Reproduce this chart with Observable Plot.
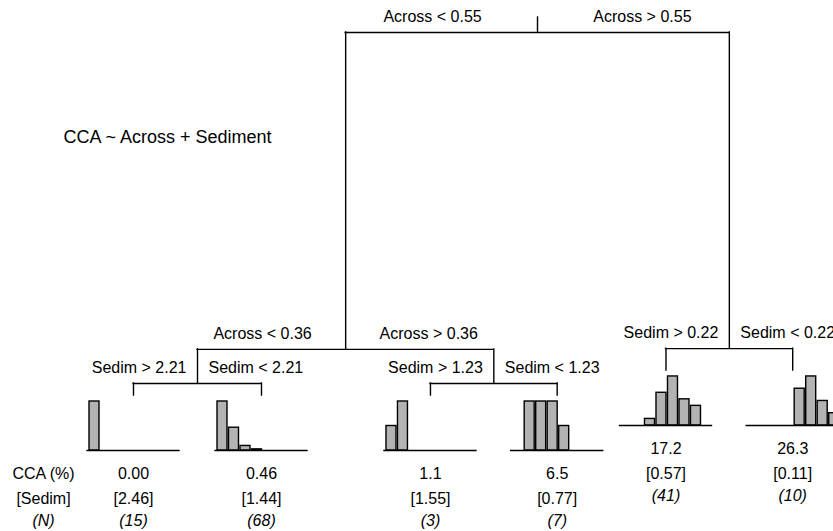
<!DOCTYPE html>
<html>
<head>
<meta charset="utf-8">
<script src="https://cdn.jsdelivr.net/npm/d3@7"></script>
<script src="https://cdn.jsdelivr.net/npm/@observablehq/plot@0.6"></script>
<style>
  html, body { margin: 0; padding: 0; background: #fff; }
  #chart svg { display: block; }
</style>
</head>
<body>
<div id="chart"></div>
<script>
// ---- Data ----
const title = "CCA ~ Across + Sediment";
// leaves (terminal nodes), left to right
const leafIds = ["L1", "L2", "L3", "L4", "L5", "L6"];
const leafPos = [1, 2, 3.32, 4.31, 5.16, 6.15];          // layout position along x
const leafDepth = [0, 0, 0, 0, 0.069, 0.069];           // node height (deviance scale)
const ccaMean = ["0.00", "0.46", "1.1", "6.5", "17.2", "26.3"];
const sedimMean = ["[2.46]", "[1.44]", "[1.55]", "[0.77]", "[0.57]", "[0.11]"];
const nObs = ["(15)", "(68)", "(3)", "(7)", "(41)", "(10)"];
const histCounts = [
  [15, 0, 0, 0, 0, 0, 0, 0],
  [43, 20, 4, 1, 0, 0, 0, 0],
  [1, 2, 0, 0, 0, 0, 0, 0],
  [0, 2, 2, 2, 1, 0, 0, 0],
  [0, 0, 2, 10, 15, 8, 6, 0],
  [0, 0, 0, 0, 3, 4, 2, 1]
];
// splits (internal nodes)
const splitIds = ["root", "n2", "n3", "n4", "n5"];
const splitLeft = ["Across < 0.55", "Across < 0.36", "Sedim > 0.22", "Sedim > 2.21", "Sedim > 1.23"];
const splitRight = ["Across > 0.55", "Across > 0.36", "Sedim < 0.22", "Sedim < 2.21", "Sedim < 1.23"];
const splitDepth = [1.0, 0.127, 0.129, 0.033, 0.033];
const splitChildren = [["n2", "n3"], ["n4", "n5"], ["L5", "L6"], ["L1", "L2"], ["L3", "L4"]];
const rowLegend = ["CCA (%)", "[Sedim]", "(N)"];

// ---- Layout ----
const px = 1 / 128;   // one pixel in x units
const py = 1 / 363;   // one pixel in y units
const nodes = {};
leafIds.forEach((id, i) => nodes[id] = {x: leafPos[i], y: leafDepth[i]});
const splitIndex = Object.fromEntries(splitIds.map((id, i) => [id, i]));
function place(id) {
  if (nodes[id]) return nodes[id];
  const i = splitIndex[id];
  const [a, b] = splitChildren[i].map(place);
  nodes[id] = {x: (a.x + b.x) / 2, y: splitDepth[i]};
  return nodes[id];
}
splitIds.forEach(place);

const splits = splitIds.map((id, i) => {
  const n = nodes[id];
  const l = nodes[splitChildren[i][0]];
  const r = nodes[splitChildren[i][1]];
  return {id, x: n.x, y: n.y, lx: l.x, rx: r.x, left: splitLeft[i], right: splitRight[i],
          wideL: (n.x - l.x) / px > 120, wideR: (r.x - n.x) / px > 120};
});
const edges = [];
splits.forEach((s, i) => splitChildren[i].forEach(c => edges.push({x: nodes[c].x, y1: s.y, y2: nodes[c].y})));

const leaves = leafIds.map((id, i) => ({
  x: leafPos[i], y: leafDepth[i], base: leafDepth[i] - 55 * py,
  mean: ccaMean[i], sed: sedimMean[i], n: nObs[i]
}));
const bars = [];
leaves.forEach((lf, i) => {
  const max = d3.max(histCounts[i]);
  histCounts[i].forEach((c, k) => {
    if (c > 0) {
      const x1 = lf.x + (-46 + 2 + 11.5 * k) * px;
      bars.push({x1, x2: x1 + 10 * px, y1: lf.base, y2: lf.base + (c / max) * 49 * py});
    }
  });
});
const root = nodes["root"];

const lineOpts = {stroke: "black", strokeWidth: 1.4, strokeLinecap: "square"};
const font = {fontSize: 16, fill: "black"};

const chart = Plot.plot({
  width: 833,
  height: 531,
  margin: 0,
  style: {fontFamily: "'Liberation Sans', Arial, Helvetica, sans-serif", background: "white"},
  x: {domain: [0, 6.5], range: [5, 5 + 6.5 * 128], axis: null},
  y: {domain: [0, 1], range: [395, 32], axis: null},
  marks: [
    // tree
    Plot.ruleX([root], {x: "x", y1: "y", y2: d => d.y + 15 * py, ...lineOpts}),
    Plot.ruleY(splits, {y: "y", x1: "lx", x2: "rx", ...lineOpts}),
    Plot.ruleX(edges, {x: "x", y1: "y1", y2: "y2", ...lineOpts}),
    // split labels
    Plot.text(splits.filter(s => s.wideL), {x: d => (d.x + d.lx) / 2, y: "y", text: "left", dx: -9, dy: -16, textAnchor: "middle", ...font}),
    Plot.text(splits.filter(s => !s.wideL), {x: "x", y: "y", text: "left", dx: -11, dy: -16, textAnchor: "end", ...font}),
    Plot.text(splits.filter(s => s.wideR), {x: d => (d.x + d.rx) / 2, y: "y", text: "right", dx: 9, dy: -16, textAnchor: "middle", ...font}),
    Plot.text(splits.filter(s => !s.wideR), {x: "x", y: "y", text: "right", dx: 11, dy: -16, textAnchor: "start", ...font}),
    // histograms
    Plot.rect(bars, {x1: "x1", x2: "x2", y1: "y1", y2: "y2", fill: "#b3b3b3", stroke: "black", strokeWidth: 1.4}),
    Plot.ruleY(leaves, {y: "base", x1: d => d.x - 46 * px, x2: d => d.x + 46 * px, ...lineOpts}),
    // leaf texts
    Plot.text(leaves, {x: "x", y: "y", text: "mean", dy: 78, ...font}),
    Plot.text(leaves, {x: "x", y: "y", text: "sed", dy: 103, ...font}),
    Plot.text(leaves, {x: "x", y: "y", text: "n", dy: 125, fontStyle: "italic", ...font}),
    // row legend
    Plot.text([rowLegend[0]], {frameAnchor: "left", y: () => leafDepth[0], text: d => d, dx: 43, dy: 78, textAnchor: "middle", ...font}),
    Plot.text([rowLegend[1]], {frameAnchor: "left", y: () => leafDepth[0], text: d => d, dx: 43, dy: 103, textAnchor: "middle", ...font}),
    Plot.text([rowLegend[2]], {frameAnchor: "left", y: () => leafDepth[0], text: d => d, dx: 43, dy: 125, textAnchor: "middle", fontStyle: "italic", ...font}),
    // model formula
    Plot.text([title], {frameAnchor: "top-left", text: d => d, dx: 63, dy: 130, textAnchor: "start", fontSize: 18, fill: "black"})
  ]
});
document.getElementById("chart").appendChild(chart);
</script>
</body>
</html>
